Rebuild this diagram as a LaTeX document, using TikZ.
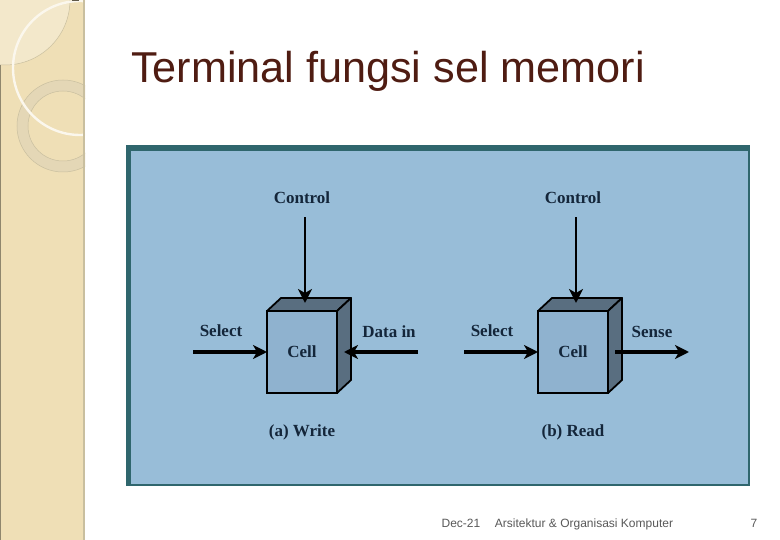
\documentclass[tikz,border=0pt]{standalone}
\usepackage{fontspec}
\setmainfont{Liberation Sans}
\newfontfamily\figfont{Liberation Serif}
\usepackage{color}
\usetikzlibrary{arrows.meta}
\definecolor{panel}{HTML}{EFDFB6}
\definecolor{lens}{HTML}{F3E8CB}
\definecolor{ringc}{HTML}{E4D7B6}
\definecolor{edgec}{HTML}{C9BF9F}
\definecolor{titlec}{HTML}{4F1C12}
\definecolor{footc}{HTML}{595959}
\definecolor{framec}{HTML}{2F666D}
\definecolor{bluec}{HTML}{98BDD8}
\definecolor{cellc}{HTML}{8FB2CF}
\definecolor{facec}{HTML}{596E80}
\definecolor{inkc}{HTML}{14263A}

\begin{document}
\begin{tikzpicture}[x=1pt,y=-1pt,->,>={Stealth[length=14pt,width=14pt,inset=4pt]},auto]
\tikzstyle{every edge}=[draw=black,line width=3.4pt]
\tikzstyle{cell}=[rectangle,draw=black,fill=cellc,text=inkc,line width=2.4pt,
                  minimum width=70pt,minimum height=82pt,inner sep=0pt,
                  outer sep=0pt,font=\figfont\bfseries\fontsize{17}{19}\selectfont]
\tikzstyle{lbl}=[text=inkc,inner sep=0pt,font=\figfont\bfseries\fontsize{17}{19}\selectfont]
\tikzstyle{foot}=[text=footc,inner sep=0pt,anchor=base,font=\fontsize{12}{14}\selectfont]
\tikzstyle{face}=[-,draw=black,fill=facec,line width=1.8pt,line join=round]
\useasboundingbox (0,0) rectangle (780,540);
\fill[white] (0,0) rectangle (780,540);
\begin{scope}
\clip (0,0) rectangle (85,540);
\fill[panel] (0,0) rectangle (85,540);
\fill[lens,draw=edgec,line width=.5pt,-] (5,0) circle (65);
\fill[ringc,even odd rule] (63,126) circle (46) (63,126) circle (35);
\draw[-,edgec,line width=.5pt] (63,126) circle (46) (63,126) circle (35);
\draw[-,white!75!panel,line width=2.4pt] (80,68) circle (67);
\fill[edgec] (83,0) rectangle (85,540);
\fill[black!40!panel] (0,65) rectangle (1,540);
\fill[black!60!panel] (72,0) rectangle (79,1);
\end{scope}
\node[text=titlec,inner sep=0pt,font=\fontsize{43.2}{48}\selectfont] (title) at (388,71) {Terminal fungsi sel memori};
\fill[framec] (126,145) rectangle (750,486);
\fill[bluec] (131,151) rectangle (748,484);
\node[cell] (cellA) at (302,352) {Cell};
\node[cell] (cellB) [right of=cellA,node distance=271pt] {Cell};
\foreach \c in {cellA,cellB} {
  \filldraw[face] (\c.north west) -- ++(14pt,13pt) -- ++(70pt,0pt) -- ++(-14pt,-13pt) -- cycle;
  \filldraw[face] (\c.north east) -- ++(14pt,13pt) -- ++(0pt,-82pt) -- ++(-14pt,-13pt) -- cycle;
}
\node[lbl] (ctlA) [above of=cellA,node distance=154pt] {Control};
\node[lbl] (ctlB) [above of=cellB,node distance=154pt] {Control};
\node[lbl] (selA) at (221,331) {Select};
\node[lbl] (datA) at (389,332) {Data in};
\node[lbl] (selB) at (492,331) {Select};
\node[lbl] (senB) at (652,332) {Sense};
\node[lbl] (capA) [below of=cellA,node distance=80pt] {(a) Write};
\node[lbl] (capB) [below of=cellB,node distance=80pt] {(b) Read};
\coordinate (inSelA) at (193,352);
\coordinate (inDatA) at (418,352);
\coordinate (inSelB) at (464,352);
\coordinate (outSenB) at (689,352);
\path ([xshift=3pt,yshift=-13pt]ctlA.south) edge[line width=2.4pt] ([xshift=3pt,yshift=8pt]cellA.north)
      ([xshift=3pt,yshift=-13pt]ctlB.south) edge[line width=2.4pt] ([xshift=3pt,yshift=8pt]cellB.north)
      (inSelA) edge (cellA.west)
      (inDatA) edge ([xshift=7pt]cellA.east)
      (inSelB) edge (cellB.west)
      ([xshift=7pt]cellB.east) edge (outSenB);
\node[foot] (date) at (461,527) {Dec-21};
\node[foot] (course) at (584,527) {Arsitektur \& Organisasi Komputer};
\node[foot] (page) at (754,527) {7};
\end{tikzpicture}
\end{document}
